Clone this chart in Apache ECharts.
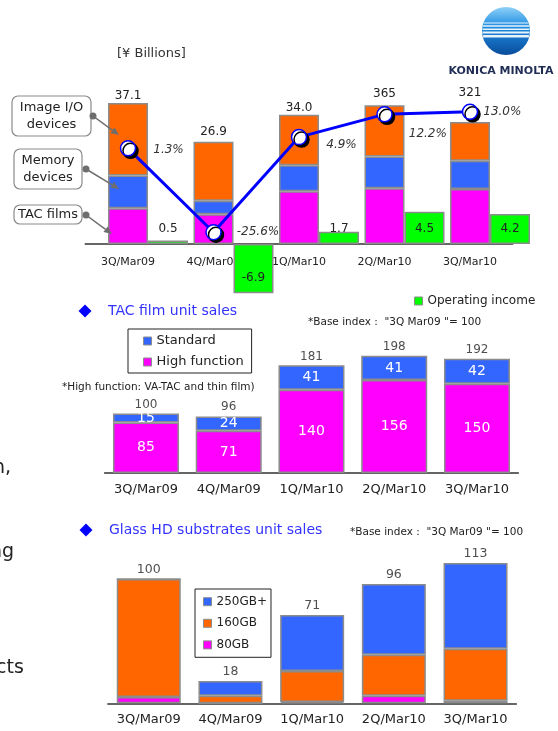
<!DOCTYPE html>
<html>
<head>
<meta charset="utf-8">
<script src="https://cdn.jsdelivr.net/npm/echarts@6/dist/echarts.min.js"></script>
<style>
  html, body { margin: 0; padding: 0; background: #fff; }
  #main { width: 558px; height: 731px; }
</style>
</head>
<body>
<div id="main"></div>
<script>
const quarters = ['3Q/Mar09', '4Q/Mar09', '1Q/Mar10', '2Q/Mar10', '3Q/Mar10'];

// net sales by segment [¥ billions]
const tacFilms = [9.4, 7.8, 13.9, 14.7, 14.5];
const memoryDevices = [8.6, 3.6, 6.8, 8.3, 7.4];
const imageIO = [19.1, 15.5, 13.3, 13.5, 10.2];
const salesLabels = ['37.1', '26.9', '34.0', '365', '321'];
const operatingIncome = [0.5, -6.9, 1.7, 4.5, 4.2];
const operatingMargin = [1.3, -25.6, 4.9, 12.2, 13.0];

// TAC film unit sales index (3Q Mar09 = 100)
const tacHigh = [85, 71, 140, 156, 150];
const tacStandard = [15, 24, 41, 41, 42];
const tacTotal = [100, 96, 181, 198, 192];

// glass HD substrates unit sales index
const hd80 = [5, 0, 1, 6, 2];
const hd160 = [95, 6, 25, 33, 42];
const hd250 = [0, 12, 45, 57, 69];
const hdTotal = [100, 18, 71, 96, 113];

const F = 'DejaVu Sans';
const BORDER = '#8c8c8c';

// label nudges (px)
const salesLabelOffset = [[0, 0], [0, -3], [0, 0], [0, -4], [0, -22]];
const marginLabelOffset = [[1, 2], [-1, 0], [3, 8], [0, 20], [-11, 0]];

function barStyle(color) {
  return { color: color, borderColor: BORDER, borderWidth: 1.5 };
}

function catAxis(gridIndex, extra) {
  return Object.assign({
    type: 'category', gridIndex: gridIndex, data: quarters,
    axisTick: { show: false },
    axisLine: { onZero: false, lineStyle: { color: '#333', width: 1.5 } },
    axisLabel: { interval: 0, fontFamily: F, fontSize: 13, color: '#222', margin: 10 }
  }, extra || {});
}

function arrow(x1, y1, x2, y2) {
  const a = Math.atan2(y2 - y1, x2 - x1), L = 8, W = 3.5;
  const bx = x2 - L * Math.cos(a), by = y2 - L * Math.sin(a);
  const px = -Math.sin(a) * W, py = Math.cos(a) * W;
  return [
    { type: 'circle', z: 100, shape: { cx: x1, cy: y1, r: 3.5 }, style: { fill: '#6e6e6e' } },
    { type: 'line', z: 100, shape: { x1: x1, y1: y1, x2: bx, y2: by }, style: { stroke: '#6e6e6e', lineWidth: 1.5 } },
    { type: 'polygon', z: 100, shape: { points: [[x2, y2], [bx + px, by + py], [bx - px, by - py]] }, style: { fill: '#6e6e6e' } }
  ];
}

function txt(s, x, y, size, color, extra) {
  return Object.assign({
    type: 'text', x: x, y: y, z: 100,
    style: { text: s, font: size + 'px "' + F + '"', fill: color || '#222', verticalAlign: 'middle', align: 'left' }
  }, extra || {});
}

function diamond(cx, cy) {
  return { type: 'polygon', shape: { points: [[cx, cy - 6.5], [cx + 6.5, cy], [cx, cy + 6.5], [cx - 6.5, cy]] }, style: { fill: '#0000ff' } };
}

function box(x, y, w, h, lines) {
  const els = [{ type: 'rect', z: 99, shape: { x: x, y: y, width: w, height: h, r: 6 }, style: { fill: '#fff', stroke: '#8a8a8a', lineWidth: 1.2 } }];
  const step = 17;
  const y0 = y + h / 2 - (lines.length - 1) * step / 2;
  lines.forEach((l, i) => {
    els.push(txt(l, x + w / 2, y0 + i * step, 13, '#222', { style: { text: l, font: '13px "' + F + '"', fill: '#222', align: 'center', verticalAlign: 'middle' } }));
  });
  return els;
}

// Konica Minolta globe
const logo = [];
const gx = 506, gy = 31, gr = 24;
logo.push({
  type: 'circle', shape: { cx: gx, cy: gy, r: gr },
  style: { fill: { type: 'linear', x: 0, y: 0, x2: 0, y2: 1, colorStops: [
    { offset: 0, color: '#8fd0f7' }, { offset: 0.4, color: '#1f8fe2' }, { offset: 1, color: '#0a4c9c' }] } }
});
[[23, 1], [26, 1.3], [29.2, 1.6], [32.6, 2], [36.2, 2.4]].forEach(s => {
  const hw = Math.sqrt(gr * gr - (s[0] - gy) * (s[0] - gy)) - 0.5;
  logo.push({ type: 'line', shape: { x1: gx - hw, y1: s[0], x2: gx + hw, y2: s[0] }, style: { stroke: 'rgba(255,255,255,0.9)', lineWidth: s[1] } });
});

const graphics = [].concat(
  logo,
  [txt('KONICA MINOLTA', 501, 71, 11, '#1f2d55', { style: { text: 'KONICA MINOLTA', font: 'bold 11px "' + F + '"', fill: '#1f2d55', align: 'center', verticalAlign: 'middle' } })],
  [txt('[¥ Billions]', 117, 54, 13, '#333')],
  box(12, 96, 79, 40, ['Image I/O', 'devices']),
  box(14, 149, 68, 40, ['Memory', 'devices']),
  box(14, 205, 68, 19, ['TAC films']),
  arrow(93, 116, 119, 135),
  arrow(86, 169, 119, 189),
  arrow(86, 215, 112, 234),
  [diamond(85, 311), txt('TAC film unit sales', 108, 311, 14, '#3333ff')],
  [txt('*Base index :  "3Q Mar09 "= 100', 308, 322, 10.5, '#222')],
  [txt('*High function: VA-TAC and thin film)', 62, 387, 10.5, '#222')],
  [diamond(86, 530), txt('Glass HD substrates unit sales', 109, 530, 14, '#3333ff')],
  [txt('*Base index :  "3Q Mar09 "= 100', 350, 532, 10.5, '#222')],
  [txt('n,', -7, 468, 19, '#222'), txt('ng', -10, 552, 19, '#222'), txt('cts', -4, 668, 19, '#222')]
);

const chart = echarts.init(document.getElementById('main'));
chart.setOption({
  animation: false,
  backgroundColor: '#fff',
  textStyle: { fontFamily: F },
  grid: [
    { left: 105.25, width: 427.5, top: 92, height: 202 },
    { left: 85.25, width: 427.5, top: 92, height: 152 },
    { left: 104.6, width: 413.75, top: 342, height: 131 },
    { left: 107.9, width: 408.5, top: 548, height: 155.3 }
  ],
  xAxis: [
    catAxis(0, { show: false }),
    catAxis(1, { axisLabel: { interval: 0, fontFamily: F, fontSize: 11, color: '#222', margin: 13 } }),
    catAxis(2),
    catAxis(3)
  ],
  yAxis: [
    { type: 'value', gridIndex: 0, min: -13.158, max: 40, show: false },
    { type: 'value', gridIndex: 0, min: -7, max: 21.28, show: false },
    { type: 'value', gridIndex: 1, min: -29.36, max: 19.36, show: false },
    { type: 'value', gridIndex: 2, min: 0, max: 220, show: false },
    { type: 'value', gridIndex: 3, min: 0, max: 125, show: false }
  ],
  legend: [
    { data: ['Operating income'], left: 414, top: 295, padding: 0, icon: 'rect',
      itemWidth: 8, itemHeight: 8, itemStyle: { borderWidth: 1 },
      textStyle: { fontFamily: F, fontSize: 12, color: '#222' } },
    { data: ['Standard', 'High function'], orient: 'vertical', left: 128, top: 329,
      padding: [5, 8, 4, 15], itemGap: 7, icon: 'rect', itemWidth: 8, itemHeight: 8,
      itemStyle: { borderWidth: 1 }, borderColor: '#222', borderWidth: 1,
      textStyle: { fontFamily: F, fontSize: 13, lineHeight: 14, color: '#222' } },
    { data: ['250GB+', '160GB', '80GB'], orient: 'vertical', left: 195, top: 589,
      padding: [5.7, 4, 5.4, 8], itemGap: 7.6, icon: 'rect', itemWidth: 8, itemHeight: 8,
      itemStyle: { borderWidth: 1 }, borderColor: '#222', borderWidth: 1,
      textStyle: { fontFamily: F, fontSize: 12, lineHeight: 14, color: '#222' } }
  ],
  graphic: graphics,
  series: [
    { name: 'TAC films', type: 'bar', xAxisIndex: 0, yAxisIndex: 0, stack: 'sales', barWidth: 40, barGap: '0%',
      data: tacFilms, itemStyle: barStyle('#ff00ff') },
    { name: 'Memory devices', type: 'bar', xAxisIndex: 0, yAxisIndex: 0, stack: 'sales', barWidth: 40, barGap: '0%',
      data: memoryDevices, itemStyle: barStyle('#3366ff') },
    { name: 'Image I/O devices', type: 'bar', xAxisIndex: 0, yAxisIndex: 0, stack: 'sales', barWidth: 40, barGap: '0%',
      data: imageIO.map((v, i) => ({ value: v, label: { offset: salesLabelOffset[i] } })),
      itemStyle: barStyle('#ff6600'),
      label: { show: true, position: 'top', distance: 1, fontFamily: F, fontSize: 12, color: '#222',
        formatter: p => salesLabels[p.dataIndex] } },
    { name: 'Operating income', type: 'bar', xAxisIndex: 0, yAxisIndex: 1, barWidth: 40, barGap: '0%',
      data: operatingIncome, itemStyle: barStyle('#00ff00'),
      label: { show: true, position: 'insideBottom', distance: 9, fontFamily: F, fontSize: 12, color: '#222' } },
    { name: 'Operating margin', type: 'line', xAxisIndex: 1, yAxisIndex: 2, z: 5,
      data: operatingMargin.map((v, i) => ({ value: v, label: { offset: marginLabelOffset[i] } })),
      lineStyle: { color: '#0000ff', width: 3 },
      symbol: 'circle', symbolSize: 15,
      itemStyle: { color: '#fff', borderColor: '#0000ff', borderWidth: 1.5,
        shadowColor: '#000', shadowBlur: 0, shadowOffsetX: 2.5, shadowOffsetY: 2.5 },
      label: { show: true, position: 'right', distance: 16, fontFamily: F, fontSize: 12,
        fontStyle: 'italic', color: '#333', formatter: p => p.value.toFixed(1) + '%' } },

    { name: 'High function', type: 'bar', xAxisIndex: 2, yAxisIndex: 3, stack: 'tac', barWidth: 66,
      data: tacHigh, itemStyle: barStyle('#ff00ff'),
      label: { show: true, position: 'inside', fontFamily: F, fontSize: 14, color: '#fff' } },
    { name: 'Standard', type: 'bar', xAxisIndex: 2, yAxisIndex: 3, stack: 'tac', barWidth: 66,
      data: tacStandard, itemStyle: barStyle('#3366ff'),
      label: { show: true, position: 'inside', fontFamily: F, fontSize: 14, color: '#fff' } },
    { name: 'TAC total', type: 'scatter', xAxisIndex: 2, yAxisIndex: 3, data: tacTotal,
      symbolSize: 1, itemStyle: { color: 'rgba(0,0,0,0)' }, silent: true,
      label: { show: true, position: 'top', distance: 2, fontFamily: F, fontSize: 12, color: '#222' } },

    { name: '80GB', type: 'bar', xAxisIndex: 3, yAxisIndex: 4, stack: 'hd', barWidth: 64,
      data: hd80, itemStyle: barStyle('#ff00ff') },
    { name: '160GB', type: 'bar', xAxisIndex: 3, yAxisIndex: 4, stack: 'hd', barWidth: 64,
      data: hd160, itemStyle: barStyle('#ff6600') },
    { name: '250GB+', type: 'bar', xAxisIndex: 3, yAxisIndex: 4, stack: 'hd', barWidth: 64,
      data: hd250, itemStyle: barStyle('#3366ff') },
    { name: 'HD total', type: 'scatter', xAxisIndex: 3, yAxisIndex: 4, data: hdTotal,
      symbolSize: 1, itemStyle: { color: 'rgba(0,0,0,0)' }, silent: true,
      label: { show: true, position: 'top', distance: 2, fontFamily: F, fontSize: 12.5, color: '#222' } }
  ]
});
</script>
</body>
</html>
